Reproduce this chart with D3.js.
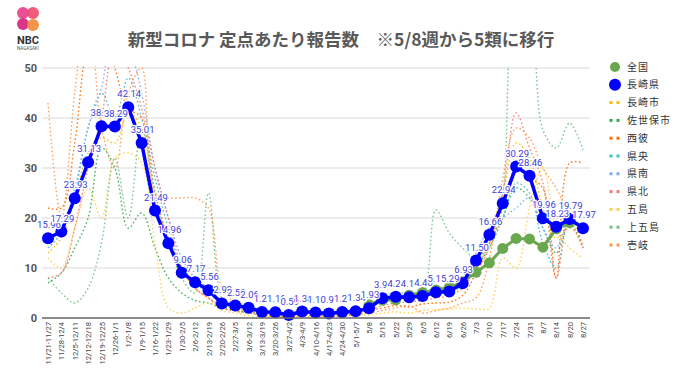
<!DOCTYPE html>
<html>
<head>
<meta charset="utf-8">
<script src="https://cdn.jsdelivr.net/npm/d3@7"></script>
<style>
  body { margin: 0; background: #fff; }
  svg { display: block; font-family: "Noto Sans CJK JP", "Noto Sans", sans-serif; }
</style>
</head>
<body>
<div id="chart"></div>
<script>
// semaines (axe X)
const weeks = ["11/21-11/27","11/28-12/4","12/5-12/11","12/12-12/18","12/19-12/25","12/26-1/1",
  "1/2-1/8","1/9-1/15","1/16-1/22","1/23-1/29","1/30-2/5","2/6-2/12","2/13-2/19","2/20-2/26",
  "2/27-3/5","3/6-3/12","3/13-3/19","3/20-3/26","3/27-4/2","4/3-4/9","4/10-4/16","4/17-4/23",
  "4/24-4/30","5/1-5/7","5/8","5/15","5/22","5/29","6/5","6/12","6/19","6/26","7/3","7/10",
  "7/17","7/24","7/31","8/7","8/14","8/20","8/27"];

const yTicks = [0, 10, 20, 30, 40, 50];

// 長崎県
const nagasakiPref = [15.96,17.29,23.93,31.13,38.33,38.29,42.14,35.01,21.49,14.96,9.06,7.17,5.56,2.92,
  2.50,2.06,1.21,1.16,0.59,1.30,1.10,0.91,1.21,1.34,1.93,3.94,4.24,4.14,4.40,5.14,5.29,6.93,11.50,
  16.66,22.94,30.29,28.46,19.96,18.23,19.79,17.97];

// 全国 (à partir du 5/8)
const national = [null,null,null,null,null,null,null,null,null,null,null,null,null,null,null,null,
  null,null,null,null,null,null,null,null,2.63,3.56,3.63,4.55,5.11,5.60,6.13,7.24,9.14,11.04,13.91,
  15.91,15.81,14.16,17.84,19.07,null];

// zones (lignes pointillées)
const nagasakiCity = [13,16,24,33,36,35,41,38,23,16,9,7,6,3,2.4,2,1.2,1.1,0.6,1.3,1.0,0.9,1.2,1.3,
  2.0,3.8,4.3,4.6,4.6,5.0,5.6,7.5,12,17,25,35,32,22,16,18,15];
const sasebo = [7,9,14,20,34,30,18,21,14,8,5,3.5,3,2,1.5,1.2,0.8,0.6,0.4,1.0,0.8,0.6,1.0,1.4,2.3,
  4.2,4.0,3.8,4.2,5.5,6.0,6.8,10,14,20,26,24,18,13,19,14];
const seihi = [22,22,35,55,60,50,42,40,25,16,10,6,4,2,1.5,1.0,0.8,0.4,0.2,0.6,0.5,0.4,0.6,0.8,1.5,
  2.0,2.5,2.2,2.8,3.0,3.2,4.5,9,14,22,30,28,26,8,31,31];
const kenou = [14,17,25,38,45,40,48,40,28,18,10,7,5,3,2.5,2.2,1.5,1.2,0.8,1.5,1.3,1.0,1.5,1.5,2.5,
  4.0,4.5,4.2,4.5,5.0,5.2,6.5,10,15,20,27,25,15,10,20,17];
const kennan = [16,18,26,38,46,60,55,45,30,20,12,8,6,3.5,3,2.5,1.5,1.4,0.8,1.6,1.4,1.2,1.5,1.6,2.2,
  4.5,5,4.8,5,6,6.5,8,13,18,20,22,24,18,14,20,18];
const kenhoku = [8,9,18,30,40,55,50,42,30,20,10,6,4,2.5,1.8,1.5,0.8,0.6,0.3,1.0,0.8,0.6,0.9,1.0,1.5,
  2.5,3,3.2,3.5,4,4.5,6,10,15,25,41,34,27,8,21,14];
const goto = [12,10,18,26,20,32,33,31,15,2,1,2,3,1.5,1,0.5,0.3,0.2,0.1,0.3,0.2,0.2,0.4,0.5,0.6,1.0,
  1.2,1.0,1.5,1.6,1.8,2.0,1.8,2.0,12,10,22,30,18,14,12];
const kamigoto = [8,5,3,6,15,32,20,38,25,15,8,5,25,4,1.5,1.0,0.5,0.5,0.3,0.8,0.6,0.5,0.8,1.0,2.5,
  4.0,4.4,4.3,4.6,21.6,17,14,12,15,25,60,58,37.6,34,39,33.6];
const iki = [43,20,45,65,38,30,45,50,25,24,24,24,22,6,3,1.5,0.5,0.3,0.2,0.5,0.4,0.3,0.5,0.6,1.0,1.5,
  2.0,2.5,1.0,1.5,2.0,3.0,4.0,12,28,38,36,30,26,20,14];

const areaNames = ["長崎市","佐世保市","西彼","県央","県南","県北","五島","上五島","壱岐"];
const areaColors = ["#fbbc04","#34a853","#ff6d01","#46bdc6","#7baaf7","#f07b72","#fcd04f","#71c287","#ff994d"];
const areaValues = [nagasakiCity, sasebo, seihi, kenou, kennan, kenhoku, goto, kamigoto, iki];

const width = 680, height = 382;
const svg = d3.select("#chart").append("svg")
  .attr("width", width)
  .attr("height", height);

// logo NBC
const logo = svg.append("g");
[[23,13,"#e8418a"],[33,13,"#ef4d6e"],[23,24,"#d6247f"],[33,25,"#f28b3c"]].forEach(c => {
  logo.append("circle").attr("cx", c[0]).attr("cy", c[1]).attr("r", 6).attr("fill", c[2]).attr("opacity", 0.92);
});
logo.append("text").attr("x", 28).attr("y", 44).attr("text-anchor", "middle")
  .attr("font-family", "Roboto, sans-serif").attr("font-size", 11).attr("font-weight", "bold")
  .attr("fill", "#333").text("NBC");
logo.append("text").attr("x", 28).attr("y", 50).attr("text-anchor", "middle")
  .attr("font-family", "Roboto, sans-serif").attr("font-size", 4.5)
  .attr("fill", "#555").text("NAGASAKI");

// titre
svg.append("text")
  .attr("x", 341).attr("y", 46)
  .attr("text-anchor", "middle")
  .attr("font-size", 17.5)
  .attr("font-weight", "bold")
  .attr("fill", "#595959")
  .text("新型コロナ 定点あたり報告数　※5/8週から5類に移行");

// échelles
const x = d3.scalePoint().domain(weeks).range([48, 583]);
const y = d3.scaleLinear().domain([0, 50]).range([318, 68]);

// grille
svg.append("g").selectAll("line").data(yTicks.slice(1)).join("line")
  .attr("x1", 42).attr("x2", 590)
  .attr("y1", d => y(d)).attr("y2", d => y(d))
  .attr("stroke", "#d9d9d9").attr("stroke-width", 1.2);

// axe Y
svg.append("g").selectAll("text").data(yTicks).join("text")
  .attr("x", 37).attr("y", d => y(d) + 4)
  .attr("text-anchor", "end")
  .attr("font-family", "Roboto, sans-serif")
  .attr("font-size", 11).attr("font-weight", "bold")
  .attr("fill", "#555")
  .text(d => d);

// zone de clip
svg.append("defs").append("clipPath").attr("id", "plot")
  .append("rect").attr("x", 30).attr("y", 66).attr("width", 570).attr("height", 260);

const plot = svg.append("g").attr("clip-path", "url(#plot)");

// lignes pointillées
const smooth = d3.line()
  .defined(d => d != null)
  .x((d, i) => x(weeks[i]))
  .y(d => y(d))
  .curve(d3.curveCatmullRom.alpha(0.5));

areaValues.forEach((vals, k) => {
  plot.append("path")
    .attr("d", smooth(vals))
    .attr("fill", "none")
    .attr("stroke", areaColors[k])
    .attr("stroke-width", 1.4)
    .attr("stroke-dasharray", "1.6,2.4")
    .attr("opacity", 0.9);
});

// axe X (ligne de base)
svg.append("line")
  .attr("x1", 42).attr("x2", 590)
  .attr("y1", y(0)).attr("y2", y(0))
  .attr("stroke", "#666").attr("stroke-width", 1.5);

const straight = d3.line()
  .defined(d => d != null)
  .x((d, i) => x(weeks[i]))
  .y(d => y(d));

// 全国
plot.append("path")
  .attr("d", straight(national))
  .attr("fill", "none")
  .attr("stroke", "#6aa84f")
  .attr("stroke-width", 3);
plot.append("g").selectAll("circle")
  .data(national.map((v, i) => ({v, i})).filter(d => d.v != null))
  .join("circle")
  .attr("cx", d => x(weeks[d.i])).attr("cy", d => y(d.v))
  .attr("r", 5.5).attr("fill", "#6aa84f");

// 長崎県
plot.append("path")
  .attr("d", straight(nagasakiPref))
  .attr("fill", "none")
  .attr("stroke", "#0000ff")
  .attr("stroke-width", 3.5);
plot.append("g").selectAll("circle")
  .data(nagasakiPref)
  .join("circle")
  .attr("cx", (d, i) => x(weeks[i])).attr("cy", d => y(d))
  .attr("r", 6).attr("fill", "#0000ff");

// étiquettes de valeurs
svg.append("g").selectAll("text")
  .data(nagasakiPref)
  .join("text")
  .attr("x", (d, i) => x(weeks[i]) + 1)
  .attr("y", d => y(d) - 10)
  .attr("text-anchor", "middle")
  .attr("font-family", "Roboto, sans-serif")
  .attr("font-size", 9.5)
  .attr("fill", "#3d3dd8")
  .attr("stroke", "#fff").attr("stroke-width", 2.5)
  .attr("paint-order", "stroke")
  .text(d => d.toFixed(2));

// étiquettes X (verticales)
svg.append("g").selectAll("text")
  .data(weeks)
  .join("text")
  .attr("transform", d => `translate(${x(d) + 3},${322}) rotate(-90)`)
  .attr("text-anchor", "end")
  .attr("font-family", "Roboto, sans-serif")
  .attr("font-size", 7.6)
  .attr("fill", "#444")
  .text(d => d);

// légende
const legendNames = ["全国", "長崎県"].concat(areaNames);
const legend = svg.append("g");
legendNames.forEach((name, k) => {
  const ly = 67 + k * 17.8;
  if (k === 0) {
    legend.append("circle").attr("cx", 615).attr("cy", ly).attr("r", 5).attr("fill", "#6aa84f");
  } else if (k === 1) {
    legend.append("circle").attr("cx", 615).attr("cy", ly).attr("r", 6).attr("fill", "#0000ff");
  } else {
    [611, 618].forEach(lx => {
      legend.append("rect").attr("x", lx - 1.5).attr("y", ly - 1.5)
        .attr("width", 3).attr("height", 3).attr("fill", areaColors[k - 2]);
    });
  }
  legend.append("text")
    .attr("x", 627).attr("y", ly + 3.5)
    .attr("font-size", 10)
    .attr("letter-spacing", 1)
    .attr("fill", "#333")
    .text(name);
});
</script>
</body>
</html>
